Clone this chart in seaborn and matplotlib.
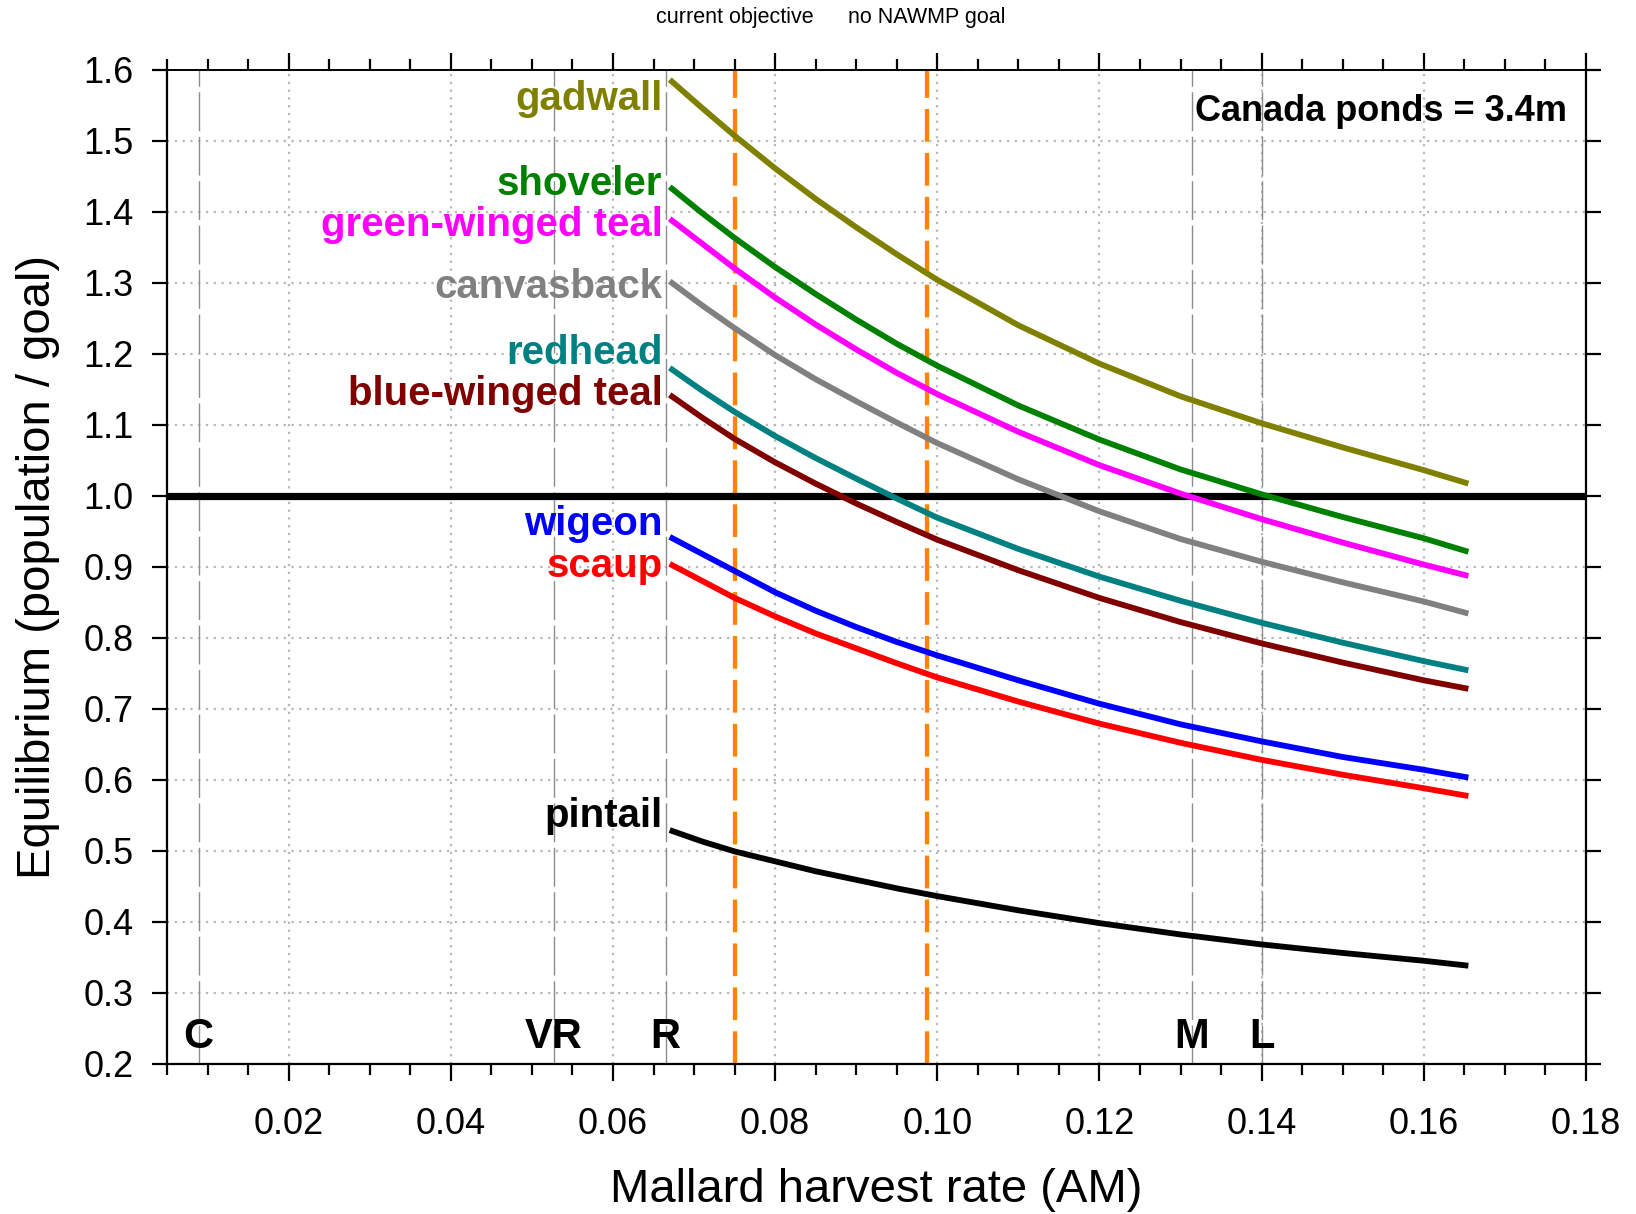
import numpy as np
import pandas as pd
import matplotlib
matplotlib.use("Agg")
import matplotlib.pyplot as plt
from matplotlib.ticker import MultipleLocator, FormatStrFormatter
import seaborn as sns

# ---------------- data ----------------
harvest_rate = [0.067, 0.071, 0.075, 0.08, 0.085, 0.09, 0.095, 0.10,
                0.11, 0.12, 0.13, 0.14, 0.15, 0.16, 0.1655]
gadwall = [1.586, 1.546, 1.507, 1.461, 1.418, 1.378, 1.340, 1.304,
           1.240, 1.186, 1.140, 1.102, 1.068, 1.036, 1.017]
shoveler = [1.435, 1.398, 1.363, 1.322, 1.284, 1.248, 1.214, 1.183,
            1.127, 1.079, 1.037, 1.002, 0.970, 0.940, 0.921]
green_winged_teal = [1.390, 1.355, 1.320, 1.279, 1.241, 1.206, 1.173, 1.143,
                     1.090, 1.043, 1.003, 0.967, 0.934, 0.903, 0.887]
canvasback = [1.302, 1.268, 1.236, 1.198, 1.164, 1.133, 1.103, 1.074,
              1.023, 0.978, 0.939, 0.907, 0.878, 0.851, 0.834]
redhead = [1.180, 1.148, 1.118, 1.084, 1.053, 1.024, 0.996, 0.969,
           0.925, 0.886, 0.852, 0.821, 0.793, 0.767, 0.754]
blue_winged_teal = [1.142, 1.110, 1.080, 1.047, 1.017, 0.989, 0.963, 0.938,
                    0.895, 0.856, 0.822, 0.792, 0.765, 0.740, 0.728]
wigeon = [0.942, 0.918, 0.894, 0.864, 0.838, 0.815, 0.794, 0.775,
          0.740, 0.707, 0.678, 0.654, 0.632, 0.614, 0.603]
scaup = [0.904, 0.880, 0.856, 0.830, 0.806, 0.785, 0.764, 0.744,
         0.710, 0.679, 0.652, 0.628, 0.607, 0.588, 0.577]
pintail = [0.529, 0.513, 0.499, 0.485, 0.471, 0.459, 0.447, 0.436,
           0.416, 0.398, 0.382, 0.368, 0.356, 0.345, 0.338]

species = ["gadwall", "shoveler", "green-winged teal", "canvasback", "redhead",
           "blue-winged teal", "wigeon", "scaup", "pintail"]
series = [gadwall, shoveler, green_winged_teal, canvasback, redhead,
          blue_winged_teal, wigeon, scaup, pintail]
colors = ["#808000", "#008000", "#ff00ff", "#808080", "#008080",
          "#800000", "#0000ff", "#ff0000", "#000000"]
label_baseline = [1.543, 1.423, 1.366, 1.278, 1.185, 1.128, 0.945, 0.885, 0.533]

regulation_names = ["C", "VR", "R", "M", "L"]
regulation_rates = [0.0089, 0.0527, 0.0665, 0.1314, 0.1400]
objective_names = ["current objective", "no NAWMP goal"]
objective_rates = [0.0750, 0.0987]

# ---------------- frame ----------------
rows = []
for name, vals in zip(species, series):
    for x, y in zip(harvest_rate, vals):
        rows.append({"rate": x, "ratio": y, "species": name})
df = pd.DataFrame(rows)

sns.set_theme(style="white")
plt.rcParams["font.family"] = ["Liberation Sans", "DejaVu Sans"]
plt.rcParams["text.color"] = "black"
plt.rcParams["axes.labelcolor"] = "black"
plt.rcParams["xtick.color"] = "black"
plt.rcParams["ytick.color"] = "black"

fig = plt.figure(figsize=(16.36, 12.14), dpi=100)
ax = fig.add_axes([0.1021, 0.1238, 0.9694 - 0.1021, 0.9426 - 0.1238])

ax.set_xlim(0.005, 0.18)
ax.set_ylim(0.2, 1.6)

# grid
ax.xaxis.set_major_locator(MultipleLocator(0.02))
ax.xaxis.set_minor_locator(MultipleLocator(0.005))
ax.yaxis.set_major_locator(MultipleLocator(0.1))
ax.xaxis.set_major_formatter(FormatStrFormatter("%.2f"))
ax.yaxis.set_major_formatter(FormatStrFormatter("%.1f"))
ax.grid(True, which="major", color="#b8b8b8", linestyle=(0, (1, 2.5)), linewidth=1.6)

# regulation lines
for r in regulation_rates:
    ax.axvline(r, color="#8c8c8c", linewidth=1.0, linestyle=(0, (28, 4)), zorder=1.5)
for name, r in zip(regulation_names, regulation_rates):
    ax.text(r, 0.238, name, ha="center", va="center", fontsize=30,
            fontweight="bold", color="black")

# objective lines
for r in objective_rates:
    ax.axvline(r, color="#ff8400", linewidth=3.1, linestyle=(0, (7.6, 2.6)),
               zorder=2, dash_capstyle="butt")
for name, r in zip(objective_names, objective_rates):
    ax.text(r, 1.052, name, transform=ax.get_xaxis_transform(), ha="center",
            va="center", fontsize=15.5, color="black")

# goal line
ax.axhline(1.0, color="black", linewidth=5.2, zorder=2.5)

palette = dict(zip(species, colors))
sns.lineplot(data=df, x="rate", y="ratio", hue="species", palette=palette,
             hue_order=species, linewidth=4.2, legend=False, ax=ax, zorder=3,
             solid_capstyle="butt")

for name, col, yb in zip(species, colors, label_baseline):
    ax.text(0.0661, yb, name, ha="right", va="baseline", fontsize=29,
            fontweight="bold", color=col)

ax.text(0.987, 0.958, "Canada ponds = 3.4m", transform=ax.transAxes, ha="right",
        va="center", fontsize=26, fontweight="bold", color="black")

# spines and ticks
for s in ["left", "bottom", "right"]:
    ax.spines[s].set_visible(True)
    ax.spines[s].set_color("black")
    ax.spines[s].set_linewidth(1.6)
ax.spines["top"].set_visible(True)
ax.spines["top"].set_color("black")
ax.spines["top"].set_linewidth(1.4)
ax.spines["top"].set_linestyle((0, (2, 1)))

ax.tick_params(axis="both", which="both", direction="out", color="black",
               labelcolor="black", top=True, right=True, bottom=True, left=True,
               labeltop=False, labelright=False)
ax.tick_params(axis="x", which="major", length=12, width=1.6, labelsize=26, pad=19)
ax.tick_params(axis="x", which="minor", length=8, width=1.6)
ax.tick_params(axis="y", which="major", length=11, width=1.6, labelsize=26, pad=13)
ax.tick_params(axis="y", which="minor", length=0)

ax.set_xlabel("Mallard harvest rate (AM)", fontsize=34, labelpad=19)
ax.set_ylabel("Equilibrium (population / goal)", fontsize=34, labelpad=17)

fig.savefig("out.png", dpi=100)
